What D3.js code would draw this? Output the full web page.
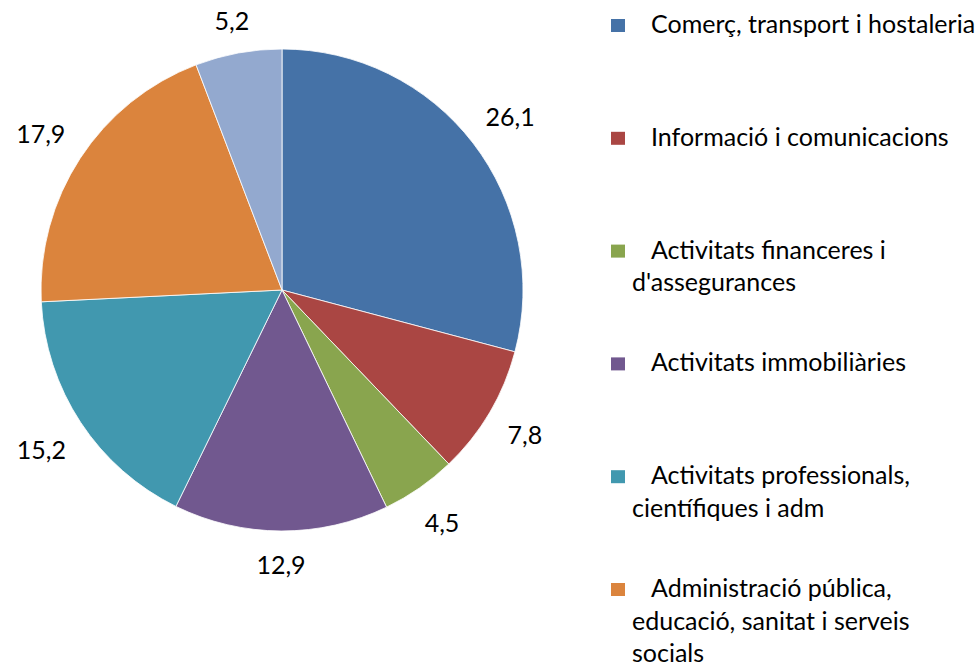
<!DOCTYPE html>
<html>
<head>
<meta charset="utf-8">
<script src="https://cdn.jsdelivr.net/npm/d3@7"></script>
<style>
  html, body { margin: 0; padding: 0; background: #fff; }
  svg text { font-family: Lato, "Open Sans", sans-serif; fill: #000; }
</style>
</head>
<body>
<div id="chart"></div>
<script>
// Data
const categories = [
    "Comerç, transport i hostaleria",
    "Informació i comunicacions",
    "Activitats financeres i d'assegurances",
    "Activitats immobiliàries",
    "Activitats professionals, científiques i adm",
    "Administració pública, educació, sanitat i serveis socials",
    "Altres serveis"
];
const values = [26.1, 7.8, 4.5, 12.9, 15.2, 17.9, 5.2];
const colors = ["#4572A7", "#AA4643", "#89A54E", "#71588F", "#4198AF", "#DB843D", "#93A9CF"];

const cfg = {
    width: 978, height: 666,
    cx: 282, cy: 290, r: 241,
    labelPad: 20, labelSize: 25,
    legendX: 611, legendTop: 33, legendStep: 112.8,
    legendSize: 25, lineHeight: 32.5, legendRight: 976
};

const fmt = d3.formatLocale({decimal: ",", thousands: ".", grouping: [3], currency: ["", "€"]}).format(".1f");

const svg = d3.select("#chart").append("svg")
    .attr("width", cfg.width)
    .attr("height", cfg.height);

const data = categories.map(function(c, i){ return {cat: c, value: values[i], color: colors[i]}; });

const pie = d3.pie().sort(null).value(function(d){ return d.value; });
const arc = d3.arc().innerRadius(0).outerRadius(cfg.r);
const arcs = pie(data);

const g = svg.append("g").attr("transform", "translate(" + cfg.cx + "," + cfg.cy + ")");

g.selectAll(".slice")
    .data(arcs)
    .enter().append("path")
    .attr("class", "slice")
    .attr("d", arc)
    .attr("fill", function(d){ return d.data.color; })
    .attr("stroke", "#fff")
    .attr("stroke-width", 0.8);

// labels outside the slices
const lab = g.selectAll(".plabel")
    .data(arcs)
    .enter().append("text")
    .attr("class", "plabel")
    .attr("text-anchor", "middle")
    .attr("dominant-baseline", "central")
    .style("font-size", cfg.labelSize + "px")
    .text(function(d){ return fmt(d.data.value); });

lab.attr("transform", function(d){
    const a = (d.startAngle + d.endAngle) / 2;
    const w = this.getComputedTextLength();
    const h = 24;
    const s = Math.sin(a), c = Math.cos(a);
    const dist = cfg.r + cfg.labelPad + 0.5 * (Math.abs(s) * w + Math.abs(c) * h);
    return "translate(" + (s * dist) + "," + (-c * dist + 1) + ")";
});

// legend (the last entry falls below the visible area, as in the original)
const visible = data.filter(function(d, i){ return cfg.legendTop + i * cfg.legendStep < cfg.height; });

const leg = svg.selectAll(".legend")
    .data(visible)
    .enter().append("g")
    .attr("class", "legend")
    .attr("transform", function(d, i){ return "translate(" + cfg.legendX + "," + (cfg.legendTop + i * cfg.legendStep) + ")"; });

leg.append("rect")
    .attr("x", 0).attr("y", -14)
    .attr("width", 14).attr("height", 13)
    .attr("fill", function(d){ return d.color; });

leg.each(function(d){
    const el = d3.select(this);
    const words = d.cat.split(" ");
    let lines = [];
    let line = [];
    const t = el.append("text").style("font-size", cfg.legendSize + "px");
    let tsp = t.append("tspan").attr("x", 40).attr("y", 0);
    let startX = cfg.legendX + 40;
    words.forEach(function(w){
        line.push(w);
        tsp.text(line.join(" "));
        if (startX + tsp.node().getComputedTextLength() > cfg.legendRight && line.length > 1) {
            line.pop();
            tsp.text(line.join(" "));
            line = [w];
            lines.push(tsp);
            tsp = t.append("tspan").attr("x", 21).attr("y", (lines.length) * cfg.lineHeight).text(w);
            startX = cfg.legendX + 21;
        }
    });
});
</script>
</body>
</html>
